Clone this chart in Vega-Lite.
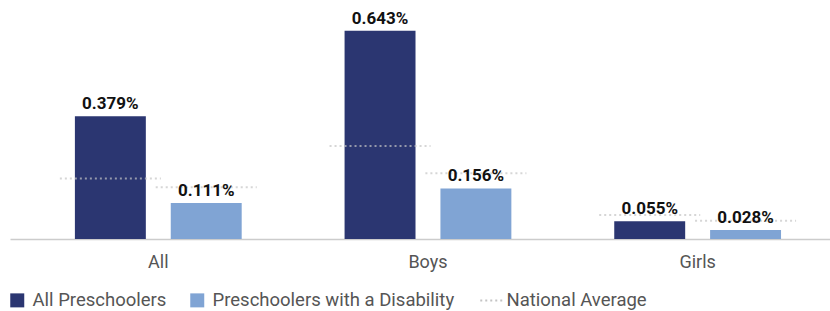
{
  "$schema": "https://vega.github.io/schema/vega-lite/v6.json",
  "width": 820,
  "height": 239,
  "autosize": {"type": "none"},
  "padding": {"left": 10, "top": 0, "right": 0, "bottom": 72},
  "config": {"view": {"stroke": null}, "font": "Roboto"},
  "data": {
    "values": [
      {"group": "All", "series": "All Preschoolers", "value": 0.00379, "avg": 0.00187},
      {"group": "All", "series": "Preschoolers with a Disability", "value": 0.00111, "avg": 0.00160},
      {"group": "Boys", "series": "All Preschoolers", "value": 0.00643, "avg": 0.00287},
      {"group": "Boys", "series": "Preschoolers with a Disability", "value": 0.00156, "avg": 0.00203},
      {"group": "Girls", "series": "All Preschoolers", "value": 0.00055, "avg": 0.00074},
      {"group": "Girls", "series": "Preschoolers with a Disability", "value": 0.00028, "avg": 0.00056}
    ]
  },
  "encoding": {
    "x": {
      "field": "group",
      "type": "nominal",
      "sort": null,
      "scale": {"paddingInner": 0.3815, "paddingOuter": 0.2111, "align": 0.57},
      "axis": {
        "title": null,
        "domainColor": "#cccccc",
        "domainWidth": 1.5,
        "ticks": false,
        "labelFontSize": 18,
        "labelColor": "#555555",
        "labelPadding": 14,
        "labelAngle": 0
      }
    },
    "xOffset": {
      "field": "series",
      "type": "nominal",
      "sort": ["All Preschoolers", "Preschoolers with a Disability"],
      "scale": {"paddingInner": 0.26, "paddingOuter": 0}
    }
  },
  "layer": [
    {
      "mark": {"type": "bar"},
      "encoding": {
        "y": {"field": "value", "type": "quantitative", "scale": {"domain": [0, 0.007377], "nice": false}, "axis": null},
        "color": {
          "field": "series",
          "type": "nominal",
          "scale": {
            "domain": ["All Preschoolers", "Preschoolers with a Disability", "National Average"],
            "range": ["#2b3671", "#80a4d4", "#c4c4c4"]
          },
          "legend": {
            "title": null,
            "orient": "none",
            "direction": "horizontal",
            "legendX": -2,
            "legendY": 291,
            "symbolSize": 484,
            "symbolType": "square",
            "labelFontSize": 18.5,
            "labelColor": "#555555",
            "labelOffset": 6,
            "labelLimit": 400,
            "columnPadding": 21,
            "encode": {
              "symbols": {
                "update": {
                  "shape": {"signal": "datum.value === 'National Average' ? 'stroke' : 'square'"},
                  "size": {"signal": "datum.value === 'National Average' ? 484 : 196"},
                  "stroke": {"signal": "datum.value === 'National Average' ? '#c4c4c4' : 'transparent'"},
                  "strokeWidth": {"signal": "datum.value === 'National Average' ? 2 : 0"},
                  "strokeDash": {"signal": "datum.value === 'National Average' ? [2, 3] : [1, 0]"}
                }
              }
            }
          }
        }
      }
    },
    {
      "mark": {
        "type": "tick",
        "filled": false,
        "stroke": "#c4c4c4",
        "strokeWidth": 2,
        "strokeDash": [2, 3],
        "size": 101,
        "thickness": 0,
        "orient": "horizontal"
      },
      "encoding": {
        "y": {"field": "avg", "type": "quantitative"}
      }
    },
    {
      "mark": {"type": "text", "baseline": "alphabetic", "dy": -7, "fontWeight": "bold", "fontSize": 17, "color": "#111111"},
      "encoding": {
        "y": {"field": "value", "type": "quantitative"},
        "text": {"field": "value", "type": "quantitative", "format": ".3%"}
      }
    }
  ]
}
